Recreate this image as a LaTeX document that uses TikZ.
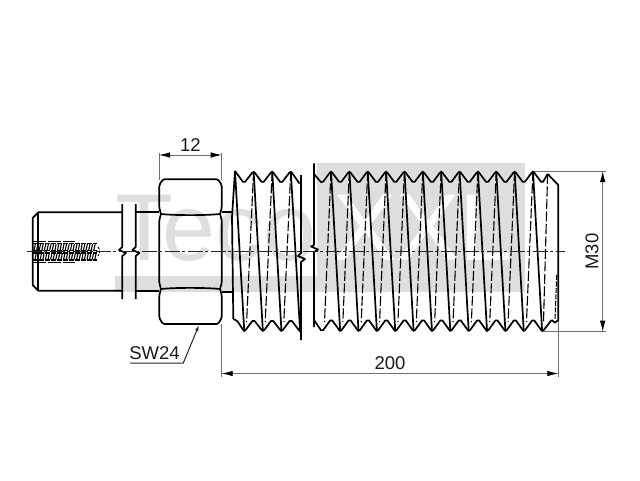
\documentclass[tikz,border=0pt]{standalone}
\usepackage{fontspec}
\setmainfont{Liberation Sans}
\usetikzlibrary{arrows.meta}
\definecolor{wm}{HTML}{DEDEDE}
\definecolor{dimc}{HTML}{707070}
\tikzset{
  outline/.style={line width=1.7pt,black,line join=round},
  hiddenline/.style={line width=1.1pt,black,dash pattern=on 10pt off 2.5pt},
  centreline/.style={line width=1.2pt,black!85,dash pattern=on 15pt off 2.5pt on 3pt off 2.5pt},
  dimline/.style={line width=0.8pt,dimc},
  dimarrow/.style={line width=0.8pt,dimc,{Latex[length=11pt,width=5.5pt,black]}-{Latex[length=11pt,width=5.5pt,black]}},
  dimtext/.style={font=\fontsize{18.5}{18.5}\selectfont,text=black!90,inner sep=0pt},
  wmtext/.style={font=\fontsize{95}{95}\selectfont,inner sep=0pt,anchor=base west},
  wave/.style={outline,rounded corners=1.8pt}
}
\begin{document}
\begin{tikzpicture}[x=1pt,y=-1pt]
\useasboundingbox (0,0) rectangle (640,480);
\fill[white] (0,0) rectangle (640,480);
% watermark
\node[wmtext,text=wm] (wmA) at (115,260) {Teco};
\fill[wm] (115,275.5) rectangle (525,292);
\fill[wm] (316.5,162.5) rectangle (525,292);
\node[wmtext,text=white] (wmB) at (333,260) {XXL};
% dimension and extension lines
\draw[dimline] (159,152.5) -- (159,180);
\draw[dimline] (221.7,152.5) -- (221.7,180);
\draw[dimline] (221.7,324) -- (221.7,377);
\draw[dimline] (558.3,320) -- (558.3,377);
\draw[dimline] (533,171) -- (606,171);
\draw[dimline] (542,331.7) -- (606,331.7);
\draw[dimarrow] (159,155) -- (221.7,155);
\draw[dimarrow] (221.7,373.5) -- (558.3,373.5);
\draw[dimarrow] (602.7,171) -- (602.7,331.7);
\node[dimtext] (d12) at (190.5,145.5) {12};
\node[dimtext] (d200) at (390,363.5) {200};
\node[dimtext,rotate=90] (dM) at (592,251.5) {M30};
\node[dimtext] (dSW) at (154.5,353.5) {SW24};
\draw[line width=1pt,black!85,-{Latex[length=6pt,width=3.5pt]}] (130,363) -- (183.3,363) -- (199,325);
% shank
\draw[outline] (122.3,212.3) -- (38.3,212.3) -- (32.7,218) -- (32.7,285) -- (38.3,290.7) -- (122.3,290.7);
\draw[outline] (38.3,212.3) -- (38.3,290.7);
\draw[outline] (135.7,212.3) -- (159,212.3);
\draw[outline] (135.7,290.7) -- (159,290.7);
\draw[outline] (122.3,204) -- (122.3,247) -- (119,250) -- (126,253) -- (122.3,256) -- (122.3,299);
\draw[outline] (135.7,204) -- (135.7,247) -- (132.4,250) -- (139.4,253) -- (135.7,256) -- (135.7,299);
% internal thread
\foreach \x in {34,36.6,...,95}{
  \draw[line width=1.1pt,black] (\x,250.5) -- (\x+1.4,244);
  \draw[line width=1.1pt,black] (\x+1,259.5) -- (\x+2.4,253);
}
\foreach \y in {243.7,250.5,253,260}{
  \draw[line width=1.1pt,black,dash pattern=on 5pt off 1pt] (33,\y) -- (97,\y);
}
\draw[line width=1.1pt,black,dash pattern=on 13pt off 2pt] (33,241.7) -- (75,241.7);
\draw[line width=1.1pt,black,dash pattern=on 13pt off 2pt] (33,262.3) -- (75,262.3);
\draw[line width=1pt,black,dash pattern=on 2.5pt off 1.5pt] (98,247) to[bend left=40] (98,256);
% nut
\draw[outline,rounded corners=1.4pt] (163,179.3) -- (159.3,185) -- (159.3,208) -- (161,214) -- (159.3,220) -- (159.3,283) -- (161,289) -- (159.3,295) -- (159.3,318) -- (163,324) -- (218,324) -- (221.7,318) -- (221.7,295) -- (220,289) -- (221.7,283) -- (221.7,220) -- (220,214) -- (221.7,208) -- (221.7,185) -- (218,179.3) -- cycle;
\draw[outline] (161,214) .. controls (175,215.5) and (205,215.5) .. (220,214);
\draw[outline] (161,289) .. controls (175,287.5) and (205,287.5) .. (220,289);
% neck
\draw[outline] (221.7,211.7) -- (232.5,211.7);
\draw[outline] (221.7,291.7) -- (233,291.7);
% left thread portion
\draw[outline] (235,171) -- (232,217) -- (233.3,319);
\draw[wave] (233.3,319.3) -- (236.7,320) -- (244.3,331.7) \foreach \k in {0,1,2}{ -- ({253.5+18.6*\k},319.5) -- ({263+18.6*\k},331.7)};
\draw[wave] (235,171) \foreach \k in {0,1,2}{ -- ({244+18.6*\k},183.3) -- ({253.5+18.6*\k},171)} -- (299.5,183.5);
\foreach \k in {0,1,2,3}{
  \draw[outline] ({235+18.6*\k},171) -- ({244.3+18.6*\k},331.7);
}
\foreach \k in {1,2,3}{
  \draw[hiddenline] ({235+18.6*\k},171) -- ({228+18.6*\k},322);
}
\draw[outline] (301,175) -- (301,253) -- (298,256) -- (305,259) -- (301,262) -- (301,340);
% right thread portion
\draw[outline] (314,163.3) -- (314,245) -- (311,246.5) -- (318,249.5) -- (314,252) -- (314,327);
\draw[wave] (314,174) -- (322,183.3) \foreach \k in {0,...,11}{ -- ({331+18.36*\k},171) -- ({340.2+18.36*\k},183.3)} -- (547.6,174);
\draw[outline] (547.6,174) -- (558.3,185) -- (558.3,320) -- (555,322.7) -- (551.7,320);
\draw[wave] (551.7,320) -- (542.4,331.7) \foreach \k in {0,...,11}{ -- ({533.2-18.36*\k},319) -- ({524-18.36*\k},331.7)} -- (314,320);
\foreach \k in {0,...,11}{
  \draw[outline] ({331+18.36*\k},171) -- ({340.2+18.36*\k},331.7);
  \draw[hiddenline] ({331+18.36*\k},171) -- ({324.5+18.36*\k},322);
}
\draw[hiddenline] (547.6,174) -- (543.5,322);
\draw[hiddenline,dash pattern=on 5pt off 1.5pt] (556.7,275) -- (555,320);
% centre line
\draw[centreline] (26.7,251.7) -- (565,251.7);
\end{tikzpicture}
\end{document}
